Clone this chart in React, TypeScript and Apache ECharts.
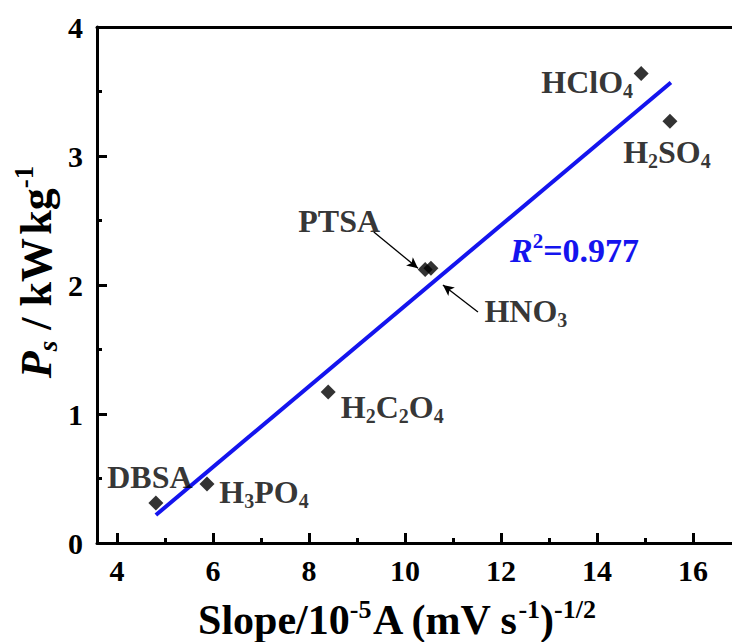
import React, { useEffect, useRef } from 'react';
import * as echarts from 'echarts';

// ---- data ----
const acidNames = ['DBSA', 'H3PO4', 'H2C2O4', 'PTSA', 'HNO3', 'HClO4', 'H2SO4'];
const acidLabels = ['DBSA', 'H{s|3}PO{s|4}', 'H{s|2}C{s|2}O{s|4}', 'PTSA', 'HNO{s|3}', 'HClO{s|4}', 'H{s|2}SO{s|4}'];
const slopeValues = [4.81, 5.875, 8.4, 10.42, 10.54, 14.92, 15.52];
const powerValues = [0.31, 0.457, 1.17, 2.12, 2.13, 3.64, 3.27];
const fitX = [4.81, 15.54];
const fitY = [0.217, 3.57];
const arrowPTSA = [[9.35, 2.41], [10.27, 2.13]];
const arrowHNO3 = [[11.52, 1.79], [10.79, 2.0]];
const xMajorTicks = [4, 6, 8, 10, 12, 14, 16];
const xMinorTicks = [5, 7, 9, 11, 13, 15];
const yTicks = [0, 1, 2, 3, 4];
const rSquared = '0.977';

const FONT = "'Times New Roman', 'Liberation Serif', serif";
const BLUE = '#1414ee';

// colorKey: 'color' for ECharts label rich, 'fill' for graphic (zrender) rich
function richSet(F: number, color: string, colorKey: 'color' | 'fill' = 'color') {
  const f = Math.round(F * 0.62);
  const L = Math.round(F * 1.15);
  const supCenter = L / 2 - 0.32 * F + 0.34 * f;
  const subCenter = L / 2 + 0.34 * F + 0.22 * F - 0.34 * f;
  const base: any = { fontFamily: FONT, fontWeight: 'bold', [colorKey]: color };
  const subLH = Math.max(2, 2 * (L - subCenter));
  return {
    m: { ...base, fontSize: F, lineHeight: L, verticalAlign: 'middle' },
    i: { ...base, fontSize: F, lineHeight: L, verticalAlign: 'middle', fontStyle: 'italic' },
    sp: { ...base, fontSize: Math.round(F * 0.3), lineHeight: L, verticalAlign: 'middle' },
    s: { ...base, fontSize: f, lineHeight: subLH, verticalAlign: 'bottom' },
    si: { ...base, fontSize: f, lineHeight: subLH, verticalAlign: 'bottom', fontStyle: 'italic' },
    u: { ...base, fontSize: f, lineHeight: 2 * supCenter, verticalAlign: 'top' },
  };
}

function wrapMain(t: string) {
  const parts = t.split(/(\{[a-z]+\|[^}]*\})/).filter((p) => p.length > 0);
  return parts.map((p) => (p.startsWith('{') ? p : `{m|${p}}`)).join('');
}

export default function App() {
  const ref = useRef<HTMLDivElement>(null);
  useEffect(() => {
    if (!ref.current) return;
    const chart = echarts.init(ref.current, undefined, { renderer: 'svg' });
    const X_MIN = 4 - 20 / 48;
    const X_MAX = X_MIN + 635 / 48;
    const labelOffsets: [number, number][] = [
      [-6, -26],
      [57, 8],
      [64, 15],
      [-86, -49],
      [95, 43],
      [-54, 9],
      [-3, 31],
    ];
    const annRich = richSet(32, '#000');
    const scatterData = acidNames.map((n, i) => ({
      name: n,
      value: [slopeValues[i], powerValues[i]],
      label: {
        show: true,
        position: 'inside',
        offset: labelOffsets[i],
        formatter: wrapMain(acidLabels[i]),
        rich: annRich,
      },
    }));
    const axisLineStyle = { color: '#000', width: 3 };
    const tickLabel = { fontFamily: FONT, fontWeight: 'bold' as const, fontSize: 30, color: '#000' };

    chart.setOption({
      animation: false,
      backgroundColor: '#fff',
      grid: { left: 97, right: 0, top: 27, bottom: 99, containLabel: false },
      xAxis: [
        {
          type: 'value', min: X_MIN, max: X_MAX, position: 'bottom',
          axisLine: { show: true, lineStyle: axisLineStyle },
          axisTick: { show: true, inside: true, length: 10, lineStyle: axisLineStyle, customValues: xMajorTicks },
          axisLabel: { ...tickLabel, margin: 12, customValues: xMajorTicks },
          splitLine: { show: false },
        },
        {
          type: 'value', min: X_MIN, max: X_MAX, position: 'bottom',
          axisLine: { show: false },
          axisTick: { show: true, inside: true, length: 5, lineStyle: axisLineStyle, customValues: xMinorTicks },
          axisLabel: { show: false },
          splitLine: { show: false },
        },
        {
          type: 'value', min: X_MIN, max: X_MAX, position: 'top',
          axisLine: { show: true, lineStyle: axisLineStyle },
          axisTick: { show: false },
          axisLabel: { show: false },
          splitLine: { show: false },
        },
      ],
      yAxis: {
        type: 'value', min: yTicks[0], max: yTicks[yTicks.length - 1], interval: 1,
        axisLine: { show: true, lineStyle: axisLineStyle },
        axisTick: { show: true, inside: true, length: 10, lineStyle: axisLineStyle },
        minorTick: { show: true, splitNumber: 2, length: 5, lineStyle: axisLineStyle },
        axisLabel: { ...tickLabel, margin: 14 },
        splitLine: { show: false },
        minorSplitLine: { show: false },
      },
      series: [
        {
          type: 'line',
          xAxisIndex: 0,
          data: fitX.map((x, i) => [x, fitY[i]]),
          symbol: 'none',
          lineStyle: { color: BLUE, width: 4 },
          z: 2,
          silent: true,
        },
        {
          type: 'scatter',
          xAxisIndex: 0,
          symbol: 'diamond',
          symbolSize: 15,
          itemStyle: { color: '#000' },
          data: scatterData,
          z: 3,
          markLine: {
            silent: true,
            symbol: ['none', 'arrow'],
            symbolSize: [8, 11],
            lineStyle: { color: '#000', width: 1.3, type: 'solid' },
            label: { show: false },
            data: [
              [{ coord: arrowPTSA[0] }, { coord: arrowPTSA[1] }],
              [{ coord: arrowHNO3[0] }, { coord: arrowHNO3[1] }],
            ],
          },
        },
      ],
      graphic: [
        {
          type: 'text',
          x: 510, y: 250,
          style: {
            text: `{i|R}{u|2}{m|=${rSquared}}`,
            rich: richSet(34, BLUE, 'fill'),
            fill: BLUE,
            align: 'left', verticalAlign: 'middle',
            textAlign: 'left', textVerticalAlign: 'middle',
          },
        },
        {
          type: 'text',
          x: 397, y: 620,
          style: {
            text: '{m|Slope/10}{u|-5}{m|A (mV s}{u|-1}{m|)}{u|-1/2}',
            rich: richSet(42, '#000', 'fill'),
            fill: '#000',
            align: 'center', verticalAlign: 'middle',
            textAlign: 'center', textVerticalAlign: 'middle',
          },
        },
        {
          type: 'text',
          x: 36, y: 272,
          rotation: Math.PI / 2,
          style: {
            text: '{i|P}{si|s}{m| / kW}{sp| }{m|kg}{u|-1}',
            rich: richSet(44, '#000', 'fill'),
            fill: '#000',
            align: 'center', verticalAlign: 'middle',
            textAlign: 'center', textVerticalAlign: 'middle',
          },
        },
      ],
    });
    return () => chart.dispose();
  }, []);
  return (
    <div
      ref={ref}
      style={{ position: 'fixed', left: 0, top: 0, width: 732, height: 642, background: '#fff' }}
    />
  );
}
